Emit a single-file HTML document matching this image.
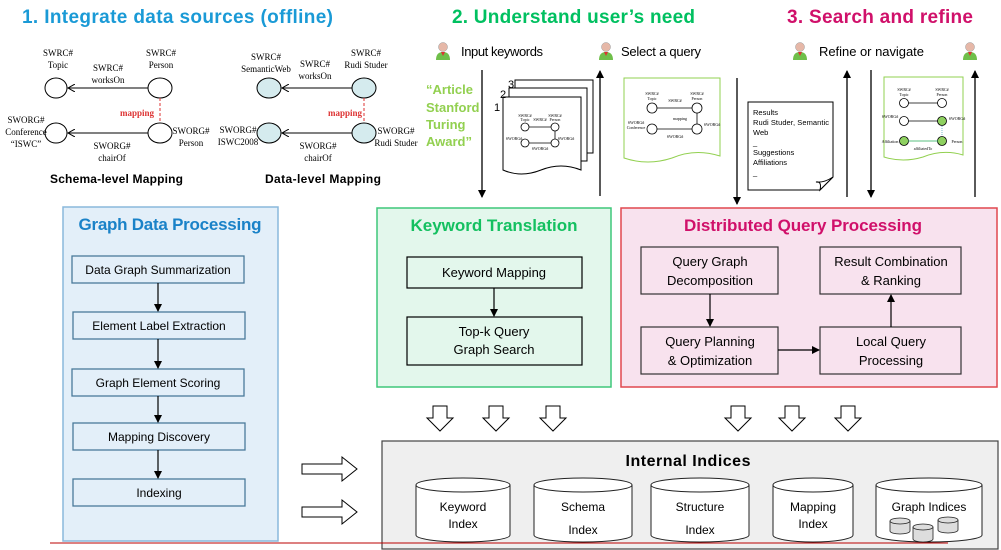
<!DOCTYPE html>
<html><head><meta charset="utf-8"><style>
body{margin:0;background:#fff}
svg{display:block;font-family:"Liberation Sans",sans-serif}
.s{font-family:"Liberation Serif",serif;font-size:9px}
.t{font-size:13px}
.m{font-family:"Liberation Serif",serif;font-size:4px}
</style></head><body>
<svg width="1001" height="550" viewBox="0 0 1001 550">
<defs>
<marker id="a" markerWidth="8" markerHeight="8" refX="7" refY="4" orient="auto" markerUnits="userSpaceOnUse"><path d="M0,0 L8,4 L0,8z" fill="#000"/></marker>
<marker id="o" markerWidth="8" markerHeight="8" refX="7" refY="4" orient="auto" markerUnits="userSpaceOnUse"><path d="M0,0 L7,4 L0,8" fill="none" stroke="#000"/></marker>
<g id="person"><circle cx="0" cy="-4" r="4.5" fill="#e6b8a8" stroke="#999" stroke-width=".5"/><path d="M-7,9 Q-7,1 0,1 Q7,1 7,9z" fill="#6fbf4a"/><path d="M-2,1 L0,5 L2,1z" fill="#d33"/></g>
<g id="hd"><path d="M-7,-12 h14 v12 h6 l-13,13 l-13,-13 h6z" fill="#fff" stroke="#000"/></g>
<g id="hr"><path d="M0,-5 h40 v-7 l15,12 l-15,12 v-7 h-40z" fill="#fff" stroke="#000"/></g>
</defs>

<text x="22" y="23" font-size="19" font-weight="bold" fill="#1a9ad6" textLength="311">1. Integrate data sources (offline)</text>
<text x="452" y="23" font-size="19" font-weight="bold" fill="#00c060" textLength="243">2. Understand user’s need</text>
<text x="787" y="23" font-size="19" font-weight="bold" fill="#d0106a" textLength="186">3. Search and refine</text>

<g stroke="#000" fill="#fff">
<ellipse cx="56" cy="88" rx="11" ry="10"/><ellipse cx="160" cy="88" rx="12" ry="10"/>
<ellipse cx="56" cy="133" rx="11" ry="10"/><ellipse cx="160" cy="133" rx="12" ry="10"/>
<line x1="148" y1="88" x2="68" y2="88" marker-end="url(#o)"/>
<line x1="148" y1="133" x2="68" y2="133" marker-end="url(#o)"/>
</g>
<line x1="160" y1="98" x2="160" y2="123" stroke="#d33" stroke-dasharray="3,2"/>
<text x="120" y="116" class="s" fill="#d33" font-weight="bold">mapping</text>
<g class="s" text-anchor="middle">
<text x="58" y="56">SWRC#</text><text x="58" y="68">Topic</text>
<text x="161" y="56">SWRC#</text><text x="161" y="68">Person</text>
<text x="108" y="71">SWRC#</text><text x="108" y="83">worksOn</text>
<text x="26" y="123">SWORG#</text><text x="26" y="135">Conference</text><text x="26" y="147">“ISWC”</text>
<text x="191" y="134">SWORG#</text><text x="191" y="146">Person</text>
<text x="112" y="149">SWORG#</text><text x="112" y="161">chairOf</text>
</g>
<text x="50" y="183" font-size="12" font-weight="bold" textLength="133">Schema-level Mapping</text>

<g stroke="#000" fill="#d5ebee">
<ellipse cx="269" cy="88" rx="12" ry="10"/><ellipse cx="364" cy="88" rx="12" ry="10"/>
<ellipse cx="269" cy="133" rx="12" ry="10"/><ellipse cx="364" cy="133" rx="12" ry="10"/>
<line x1="352" y1="88" x2="282" y2="88" marker-end="url(#o)"/>
<line x1="352" y1="133" x2="282" y2="133" marker-end="url(#o)"/>
</g>
<line x1="364" y1="98" x2="364" y2="123" stroke="#d33" stroke-dasharray="3,2"/>
<text x="328" y="116" class="s" fill="#d33" font-weight="bold">mapping</text>
<g class="s" text-anchor="middle">
<text x="266" y="60">SWRC#</text><text x="266" y="72">SemanticWeb</text>
<text x="366" y="56">SWRC#</text><text x="366" y="68">Rudi Studer</text>
<text x="315" y="67">SWRC#</text><text x="315" y="79">worksOn</text>
<text x="238" y="133">SWORG#</text><text x="238" y="145">ISWC2008</text>
<text x="396" y="134">SWORG#</text><text x="396" y="146">Rudi Studer</text>
<text x="318" y="149">SWORG#</text><text x="318" y="161">chairOf</text>
</g>
<text x="265" y="183" font-size="12" font-weight="bold" textLength="116">Data-level Mapping</text>

<use href="#person" x="443" y="51"/><use href="#person" x="606" y="51"/><use href="#person" x="800" y="51"/><use href="#person" x="970" y="51"/>
<text x="461" y="56" class="t" textLength="82">Input keywords</text>
<text x="621" y="56" class="t" textLength="80">Select a query</text>
<text x="819" y="56" class="t" textLength="105">Refine or navigate</text>
<g stroke="#000" stroke-width="1.3">
<line x1="482" y1="70" x2="482" y2="197" marker-end="url(#a)"/>
<line x1="600" y1="196" x2="600" y2="71" marker-end="url(#a)"/>
<line x1="737" y1="78" x2="737" y2="204" marker-end="url(#a)"/>
<line x1="847" y1="197" x2="847" y2="71" marker-end="url(#a)"/>
<line x1="871" y1="70" x2="871" y2="197" marker-end="url(#a)"/>
<line x1="975" y1="197" x2="975" y2="71" marker-end="url(#a)"/>
</g>
<g font-size="13" font-weight="bold" fill="#92d050">
<text x="426" y="94">“Article</text><text x="426" y="112">Stanford</text><text x="426" y="129">Turing</text><text x="426" y="146">Award”</text>
</g>
<g stroke="#000" fill="#fff">
<path d="M515,80 h78 v73 h-78z"/>
<path d="M509,88 h78 v73 h-78z"/>
<path d="M503,97 h78 v73 q-20,-8 -40,0 q-20,8 -38,0z"/>
</g>
<text x="508" y="88" font-size="11">3</text><text x="500" y="98" font-size="11">2</text><text x="494" y="111" font-size="11">1</text>
<g stroke="#000" fill="#fff" stroke-width=".8">
<circle cx="525" cy="127" r="4"/><circle cx="555" cy="127" r="4"/><circle cx="525" cy="143" r="4"/><circle cx="555" cy="143" r="4"/>
<line x1="529" y1="127" x2="551" y2="127"/><line x1="529" y1="143" x2="551" y2="143"/><line x1="555" y1="131" x2="555" y2="139"/>
</g>
<g class="m" text-anchor="middle"><text x="525" y="117">SWRC#</text><text x="525" y="121">Topic</text><text x="555" y="117">SWRC#</text><text x="555" y="121">Person</text><text x="540" y="121">SWRC#</text><text x="514" y="140">SWORG#</text><text x="566" y="140">SWORG#</text><text x="540" y="150">SWORG#</text></g>

<path d="M624,78 h96 v78 q-25,-8 -48,2 q-24,8 -48,0z" fill="#fff" stroke="#92d050"/>
<g stroke="#000" fill="#fff" stroke-width=".8">
<circle cx="652" cy="108" r="5"/><circle cx="697" cy="108" r="5"/><circle cx="652" cy="129" r="5"/><circle cx="697" cy="129" r="5"/>
<line x1="657" y1="108" x2="692" y2="108"/><line x1="657" y1="129" x2="692" y2="129"/><line x1="697" y1="113" x2="697" y2="124"/>
</g>
<g class="m" text-anchor="middle"><text x="652" y="95">SWRC#</text><text x="652" y="100">Topic</text><text x="697" y="95">SWRC#</text><text x="697" y="100">Person</text><text x="675" y="102">SWRC#</text><text x="636" y="124">SWORG#</text><text x="636" y="129">Conference</text><text x="712" y="126">SWORG#</text><text x="680" y="120">mapping</text><text x="675" y="138">SWORG#</text></g>

<path d="M748,102 h85 v75 l-13,13 h-72z" fill="#fff" stroke="#000"/>
<path d="M833,177 l-13,13 q2,-9 -4,-8 q8,1 17,-5z" fill="#fff" stroke="#000"/>
<g font-size="7.5"><text x="753" y="115">Results</text><text x="753" y="125" textLength="76">Rudi Studer, Semantic</text><text x="753" y="135">Web</text><text x="753" y="145">_</text><text x="753" y="155">Suggestions</text><text x="753" y="165">Affiliations</text><text x="753" y="175">_</text></g>

<path d="M884,77 h79 v78 q-20,-6 -40,2 q-20,6 -39,0z" fill="#fff" stroke="#92d050"/>
<g stroke="#000" stroke-width=".8">
<circle cx="904" cy="103" r="4.5" fill="#fff"/><circle cx="942" cy="103" r="4.5" fill="#fff"/><circle cx="904" cy="121" r="4.5" fill="#fff"/><circle cx="942" cy="121" r="4.5" fill="#8ed060"/>
<circle cx="904" cy="141" r="4.5" fill="#8ed060"/><circle cx="942" cy="141" r="4.5" fill="#8ed060"/>
<line x1="908" y1="103" x2="938" y2="103"/><line x1="908" y1="121" x2="938" y2="121"/><line x1="908" y1="141" x2="938" y2="141" stroke="#2a5"/>
<line x1="942" y1="126" x2="942" y2="136" stroke="#5ab" stroke-dasharray="1,1"/>
</g>
<g class="m" text-anchor="middle"><text x="904" y="91">SWRC#</text><text x="904" y="96">Topic</text><text x="942" y="91">SWRC#</text><text x="942" y="96">Person</text><text x="890" y="118">SWORG#</text><text x="957" y="120">SWORG#</text><text x="890" y="143">Affiliation</text><text x="957" y="143">Person</text><text x="923" y="150">affiliatedTo</text></g>

<rect x="63" y="207" width="215" height="334" fill="#e3eff9" stroke="#8ab8dc" stroke-width="1.5"/>
<text x="170" y="230" text-anchor="middle" font-size="17" font-weight="bold" fill="#1a82c8" textLength="183">Graph Data Processing</text>
<g fill="#e3eff9" stroke="#4a7a9a" stroke-width="1.3">
<rect x="72" y="256" width="172" height="27"/><rect x="73" y="312" width="172" height="27"/><rect x="72" y="369" width="172" height="27"/><rect x="73" y="423" width="172" height="27"/><rect x="73" y="479" width="172" height="27"/>
</g>
<g font-size="12" text-anchor="middle">
<text x="158" y="274">Data Graph Summarization</text><text x="159" y="330">Element Label Extraction</text><text x="158" y="387">Graph Element Scoring</text><text x="159" y="441">Mapping Discovery</text><text x="159" y="497">Indexing</text>
</g>
<g stroke="#000" stroke-width="1.2">
<line x1="158" y1="283" x2="158" y2="311" marker-end="url(#a)"/><line x1="158" y1="339" x2="158" y2="368" marker-end="url(#a)"/><line x1="158" y1="396" x2="158" y2="422" marker-end="url(#a)"/><line x1="158" y1="450" x2="158" y2="478" marker-end="url(#a)"/>
</g>

<rect x="377" y="208" width="234" height="179" fill="#e3f7ec" stroke="#3ec77a" stroke-width="1.5"/>
<text x="494" y="231" text-anchor="middle" font-size="17" font-weight="bold" fill="#14c060" textLength="167">Keyword Translation</text>
<g fill="#e3f7ec" stroke="#000" stroke-width="1.2"><rect x="407" y="257" width="175" height="31"/><rect x="407" y="317" width="175" height="48"/></g>
<g font-size="13" text-anchor="middle"><text x="494" y="277">Keyword Mapping</text><text x="494" y="336">Top-k Query</text><text x="494" y="354">Graph Search</text></g>
<line x1="494" y1="288" x2="494" y2="316" stroke="#000" stroke-width="1.2" marker-end="url(#a)"/>

<rect x="621" y="208" width="376" height="179" fill="#f8e2ee" stroke="#e0474f" stroke-width="1.5"/>
<text x="803" y="231" text-anchor="middle" font-size="17" font-weight="bold" fill="#d0106a" textLength="238">Distributed Query Processing</text>
<g fill="#f8e2ee" stroke="#333" stroke-width="1.2">
<rect x="641" y="247" width="137" height="47"/><rect x="820" y="247" width="141" height="47"/><rect x="641" y="327" width="137" height="47"/><rect x="820" y="327" width="141" height="47"/>
</g>
<g font-size="13" text-anchor="middle">
<text x="710" y="266">Query Graph</text><text x="710" y="285">Decomposition</text>
<text x="891" y="266">Result Combination</text><text x="891" y="285">&amp; Ranking</text>
<text x="710" y="346">Query Planning</text><text x="710" y="365">&amp; Optimization</text>
<text x="891" y="346">Local Query</text><text x="891" y="365">Processing</text>
</g>
<g stroke="#000" stroke-width="1.2">
<line x1="710" y1="294" x2="710" y2="326" marker-end="url(#a)"/>
<line x1="778" y1="350" x2="819" y2="350" marker-end="url(#a)"/>
<line x1="891" y1="327" x2="891" y2="295" marker-end="url(#a)"/>
</g>

<use href="#hd" x="440" y="418"/><use href="#hd" x="496" y="418"/><use href="#hd" x="553" y="418"/>
<use href="#hd" x="738" y="418"/><use href="#hd" x="792" y="418"/><use href="#hd" x="848" y="418"/>
<use href="#hr" x="302" y="469"/><use href="#hr" x="302" y="512"/>

<rect x="382" y="441" width="616" height="108" fill="#efefef" stroke="#444" stroke-width="1.2"/>
<text x="688" y="466" text-anchor="middle" font-size="16" font-weight="bold" textLength="125">Internal Indices</text>
<g fill="#fff" stroke="#222" stroke-width="1">
<path d="M416,485 v50 a47,7 0 0 0 94,0 v-50"/><ellipse cx="463" cy="485" rx="47" ry="7"/>
<path d="M534,485 v50 a49,7 0 0 0 98,0 v-50"/><ellipse cx="583" cy="485" rx="49" ry="7"/>
<path d="M651,485 v50 a49,7 0 0 0 98,0 v-50"/><ellipse cx="700" cy="485" rx="49" ry="7"/>
<path d="M773,485 v50 a40,7 0 0 0 80,0 v-50"/><ellipse cx="813" cy="485" rx="40" ry="7"/>
<path d="M876,485 v50 a53,7 0 0 0 106,0 v-50"/><ellipse cx="929" cy="485" rx="53" ry="7"/>
</g>
<g fill="#ddd" stroke="#222" stroke-width=".8">
<path d="M890,521 v10 a10,3 0 0 0 20,0 v-10"/><ellipse cx="900" cy="521" rx="10" ry="3"/>
<path d="M938,520 v10 a10,3 0 0 0 20,0 v-10"/><ellipse cx="948" cy="520" rx="10" ry="3"/>
<path d="M913,527 v12 a10,3 0 0 0 20,0 v-12"/><ellipse cx="923" cy="527" rx="10" ry="3"/>
</g>
<g font-size="12" text-anchor="middle">
<text x="463" y="511">Keyword</text><text x="463" y="528">Index</text>
<text x="583" y="511">Schema</text><text x="583" y="534">Index</text>
<text x="700" y="511">Structure</text><text x="700" y="534">Index</text>
<text x="813" y="511">Mapping</text><text x="813" y="528">Index</text>
<text x="929" y="511">Graph Indices</text>
</g>
<line x1="50" y1="543" x2="948" y2="543" stroke="#b00" stroke-width="1"/>
</svg>
</body></html>
